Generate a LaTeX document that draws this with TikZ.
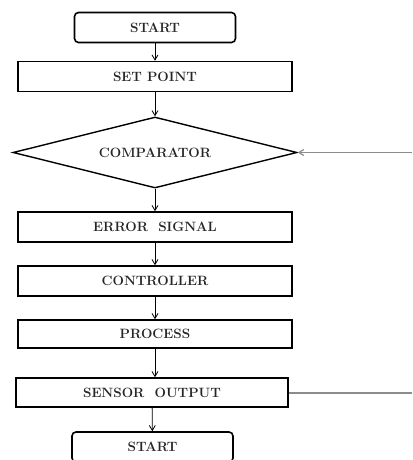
\documentclass[tikz,border=0pt]{standalone}
\usetikzlibrary{shapes.geometric,arrows.meta}
\begin{document}
\begin{tikzpicture}[x=1pt,y=-1pt,
  lbl/.style={font=\fontsize{13.5}{15}\selectfont\bfseries, text=black!85},
  boxnode/.style={lbl, draw, line width=1.6pt, minimum width=274pt, minimum height=30pt, inner sep=0pt},
  termnode/.style={boxnode, rounded corners=4pt, minimum width=161pt},
  decnode/.style={lbl, draw, diamond, aspect=4, line width=1.4pt, minimum width=284pt, minimum height=71pt, inner sep=0pt},
  flow/.style={-{Straight Barb[length=5pt,width=6pt]}, line width=0.8pt},
  feed/.style={draw=black!45, line width=1.2pt}
]
\clip (0,0) rectangle (412,460);
\fill[white] (0,0) rectangle (412,460);
\node[termnode] (start) at (155,27.5) {START};
\node[boxnode] (setp) at (155,76.5) {SET POINT};
\node[decnode] (comp) at (155,152.5) {COMPARATOR};
\node[boxnode] (err) at (155,227) {ERROR\ \ SIGNAL};
\node[boxnode] (ctrl) at (155,281) {CONTROLLER};
\node[boxnode, minimum height=28pt] (proc) at (155,334) {PROCESS};
\node[boxnode, minimum width=272pt, minimum height=29pt] (sens) at (152,392.5) {SENSOR\ \ OUTPUT};
\node[termnode] (stop) at (152.5,447) {START};
\coordinate (fin) at (412,152.5);
\coordinate (fout) at (412,393);
\draw[flow] (start) -- (setp);
\draw[flow] (setp) -- (comp);
\draw[flow] (comp) -- (err);
\draw[flow] (err) -- (ctrl);
\draw[flow] (ctrl) -- (proc);
\draw[flow] (proc.south) -- (proc.south |- sens.north);
\draw[flow] (sens) -- (stop);
\draw[feed, -{Straight Barb[length=5pt,width=6pt]}] (fin) -- (comp.east);
\draw[feed] (sens.east |- fout) -- (fout);
\end{tikzpicture}
\end{document}
